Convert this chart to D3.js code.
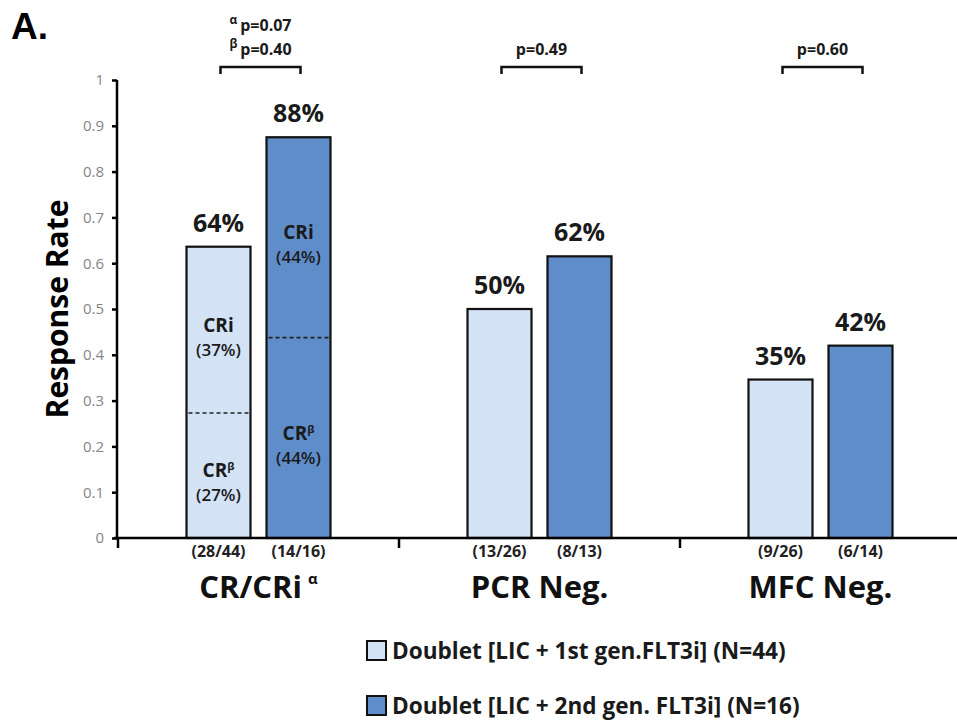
<!DOCTYPE html>
<html>
<head>
<meta charset="utf-8">
<script src="https://cdn.jsdelivr.net/npm/d3@7"></script>
<style>
  body { margin: 0; background: #fff; }
  svg { display: block; }
</style>
</head>
<body>
<script>
// values
var categories = ["CR/CRi", "PCR Neg.", "MFC Neg."];
var seriesNames = ["Doublet [LIC + 1st gen.FLT3i] (N=44)", "Doublet [LIC + 2nd gen. FLT3i] (N=16)"];
var firstGen = [0.636, 0.50, 0.346];
var secondGen = [0.875, 0.615, 0.42];
var firstLabels = ["64%", "50%", "35%"];
var secondLabels = ["88%", "62%", "42%"];
var firstCounts = ["(28/44)", "(13/26)", "(9/26)"];
var secondCounts = ["(14/16)", "(8/13)", "(6/14)"];
var crPart = [0.273, 0.4375];          // CR share inside the CR/CRi bars
var crPctLabels = ["(27%)", "(44%)"];
var criPctLabels = ["(37%)", "(44%)"];
var pLabels = [[["α", "p=0.07"], ["β", "p=0.40"]], [["", "p=0.49"]], [["", "p=0.60"]]];
var yTicks = [0, 0.1, 0.2, 0.3, 0.4, 0.5, 0.6, 0.7, 0.8, 0.9, 1];

var colors = ["#d3e2f4", "#5f8dca"];
var width = 957, height = 722;
var sansBold = "'Open Sans', 'DejaVu Sans', sans-serif";
var narrow = "'Liberation Sans Narrow', 'Open Sans', sans-serif";

var svg = d3.select('body').append('svg')
    .attr('width', width)
    .attr('height', height);

var x = d3.scaleBand().domain(categories).range([118, 961]);
var inner = d3.scaleBand().domain([0, 1]).range([-72, 72]).paddingInner(0.2);
var y = d3.scaleLinear().domain([0, 1]).range([538, 80]);

var cx = function (c) { return x(c) + x.bandwidth() / 2; };

// panel letter
svg.append('text').attr('x', 11).attr('y', 39)
    .style('font-family', 'Arial, Liberation Sans, sans-serif')
    .style('font-weight', 'bold').style('font-size', '37px')
    .text('A.');

// y axis
var yAxis = svg.append('g')
    .attr('transform', 'translate(117,0)')
    .call(d3.axisLeft(y).tickValues(yTicks).tickSize(5).tickPadding(8)
        .tickFormat(function (d) { return d3.format('.1~f')(d); }));
yAxis.select('.domain').attr('stroke', '#000').attr('stroke-width', 2.5)
    .attr('d', 'M0,' + y(1) + 'V' + (y(0) + 1));
yAxis.selectAll('.tick line').attr('stroke', '#000').attr('stroke-width', 2.5);
yAxis.selectAll('.tick text')
    .style('font-family', "'Open Sans', sans-serif")
    .style('font-size', '15px').attr('fill', '#858585');

svg.append('text')
    .attr('transform', 'translate(68,' + y(0.5) + ') rotate(-90)')
    .attr('text-anchor', 'middle')
    .style('font-family', narrow).style('font-weight', 'bold').style('font-size', '30px')
    .text('Response Rate');

// bars
var rows = categories.map(function (c, i) {
    return [
        {cat: c, s: 0, v: firstGen[i], lab: firstLabels[i], n: firstCounts[i]},
        {cat: c, s: 1, v: secondGen[i], lab: secondLabels[i], n: secondCounts[i]}
    ];
});

var g = svg.selectAll('g.grp')
    .data(rows)
    .enter()
    .append('g')
    .attr('class', 'grp')
    .attr('transform', function (d) { return 'translate(' + cx(d[0].cat) + ',0)'; });

g.selectAll('rect')
    .data(function (d) { return d; })
    .enter()
    .append('rect')
    .attr('x', function (d) { return inner(d.s); })
    .attr('y', function (d) { return y(d.v); })
    .attr('width', inner.bandwidth())
    .attr('height', function (d) { return y(0) - y(d.v); })
    .attr('fill', function (d) { return colors[d.s]; })
    .attr('stroke', '#111')
    .attr('stroke-width', 2.2);

g.selectAll('text.pct')
    .data(function (d) { return d; })
    .enter()
    .append('text')
    .attr('class', 'pct')
    .attr('x', function (d) { return inner(d.s) + inner.bandwidth() / 2; })
    .attr('y', function (d) { return y(d.v) - 15; })
    .attr('text-anchor', 'middle')
    .style('font-family', sansBold).style('font-weight', 'bold').style('font-size', '25px')
    .attr('fill', '#1a1a1a')
    .text(function (d) { return d.lab; });

g.selectAll('text.cnt')
    .data(function (d) { return d; })
    .enter()
    .append('text')
    .attr('class', 'cnt')
    .attr('x', function (d) { return inner(d.s) + inner.bandwidth() / 2; })
    .attr('y', 557)
    .attr('text-anchor', 'middle')
    .style('font-family', narrow).style('font-weight', 'bold').style('font-size', '16px')
    .attr('fill', '#222')
    .text(function (d) { return d.n; });

// CR / CRi split inside the first group
var first = rows[0];
first.forEach(function (d, i) {
    var x0 = cx(d.cat) + inner(d.s);
    var xm = x0 + inner.bandwidth() / 2;
    svg.append('line')
        .attr('x1', x0 + 2).attr('x2', x0 + inner.bandwidth() - 2)
        .attr('y1', y(crPart[i])).attr('y2', y(crPart[i]))
        .attr('stroke', '#222').attr('stroke-width', 1.6)
        .attr('stroke-dasharray', '4,3');

    var midCri = (y(crPart[i]) + y(d.v)) / 2;
    var midCr = (y(0) + y(crPart[i])) / 2;
    var blocks = [
        {mid: midCri, top: 'CRi', sup: '', pct: criPctLabels[i]},
        {mid: midCr, top: 'CR', sup: 'β', pct: crPctLabels[i]}
    ];
    blocks.forEach(function (b) {
        var t = svg.append('text')
            .attr('x', xm).attr('y', b.mid + 2)
            .attr('text-anchor', 'middle')
            .style('font-family', sansBold).style('font-weight', 'bold').style('font-size', '19px')
            .attr('fill', '#1a1a1a');
        t.append('tspan').text(b.top);
        if (b.sup) {
            t.append('tspan').attr('dy', -7).style('font-size', '11px').text(b.sup);
        }
        svg.append('text')
            .attr('x', xm).attr('y', b.mid + 26)
            .attr('text-anchor', 'middle')
            .style('font-family', sansBold).style('font-weight', 600).style('font-size', '17px')
            .attr('fill', '#1a1a1a')
            .text(b.pct);
    });
});

// x axis
svg.append('line')
    .attr('x1', 114).attr('x2', width)
    .attr('y1', y(0)).attr('y2', y(0))
    .attr('stroke', '#000').attr('stroke-width', 2.5);
svg.selectAll('line.xt')
    .data(categories)
    .enter()
    .append('line')
    .attr('class', 'xt')
    .attr('x1', function (d) { return x(d); })
    .attr('x2', function (d) { return x(d); })
    .attr('y1', y(0)).attr('y2', y(0) + 10)
    .attr('stroke', '#000').attr('stroke-width', 2.5);

var cl = svg.selectAll('text.cat')
    .data(categories)
    .enter()
    .append('text')
    .attr('class', 'cat')
    .attr('x', function (d) { return cx(d); })
    .attr('y', 598)
    .attr('text-anchor', 'middle')
    .style('font-family', narrow).style('font-weight', 'bold').style('font-size', '31px')
    .attr('fill', '#111');
cl.append('tspan').text(function (d) { return d; });
cl.filter(function (d, i) { return i === 0; })
    .append('tspan').attr('dx', 6).attr('dy', -14)
    .style('font-size', '15px').text('α');

// significance brackets
categories.forEach(function (c, i) {
    var xa = cx(c) + inner(0) + inner.bandwidth() / 2 + 2;
    var xb = cx(c) + inner(1) + inner.bandwidth() / 2 + 2;
    var by = 67;
    svg.append('path')
        .attr('d', 'M' + xa + ',' + (by + 7) + 'V' + by + 'H' + xb + 'V' + (by + 7))
        .attr('fill', 'none').attr('stroke', '#111').attr('stroke-width', 2.5);
    var lines = pLabels[i];
    lines.forEach(function (l, k) {
        var t = svg.append('text')
            .attr('x', (xa + xb) / 2)
            .attr('y', by - 12 - (lines.length - 1 - k) * 24)
            .attr('text-anchor', 'middle')
            .style('font-family', sansBold).style('font-weight', 'bold').style('font-size', '16px')
            .attr('fill', '#1a1a1a');
        if (l[0]) {
            t.append('tspan').attr('dy', -7).style('font-size', '12px').text(l[0]);
            t.append('tspan').attr('dy', 7).attr('dx', 3).text(l[1]);
        } else {
            t.text(l[1]);
        }
    });
});

// legend
var leg = svg.selectAll('g.leg')
    .data(seriesNames)
    .enter()
    .append('g')
    .attr('class', 'leg')
    .attr('transform', function (d, i) { return 'translate(367,' + (641 + i * 55) + ')'; });
leg.append('rect')
    .attr('width', 19).attr('height', 19)
    .attr('fill', function (d, i) { return colors[i]; })
    .attr('stroke', '#111').attr('stroke-width', 2);
leg.append('text')
    .attr('x', 25).attr('y', 18)
    .style('font-family', sansBold).style('font-weight', 700).style('font-size', '22.6px')
    .attr('fill', '#1a1a1a')
    .text(function (d) { return d; });
</script>
</body>
</html>
